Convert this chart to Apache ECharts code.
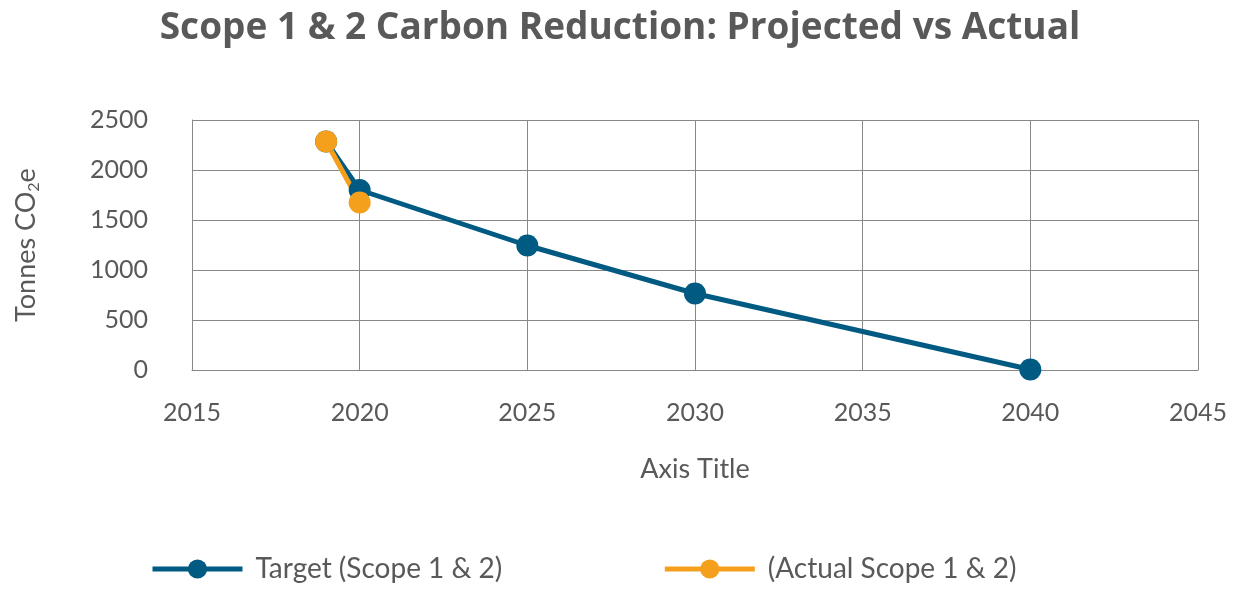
<!DOCTYPE html>
<html>
<head>
<meta charset="utf-8">
<script src="https://cdn.jsdelivr.net/npm/echarts@6/dist/echarts.min.js"></script>
<style>
  html, body { margin: 0; padding: 0; background: #fff; }
  #chart { width: 1240px; height: 590px; }
</style>
</head>
<body>
<div id="chart"></div>
<script>
// values
var targetYears = [2019, 2020, 2025, 2030, 2040];
var targetValues = [2285, 1800, 1245, 765, 5];
var actualYears = [2019, 2020];
var actualValues = [2285, 1675];

var textColor = '#595959';
var blue = '#005A82';
var orange = '#F4A01C';

var chart = echarts.init(document.getElementById('chart'));

function pairs(xs, ys) {
    return xs.map(function (x, i) { return [x, ys[i]]; });
}

// plain numbers, no thousands separator
function plain(v) {
    return String(v);
}

chart.setOption({
    animation: false,
    title: {
        text: 'Scope 1 & 2 Carbon Reduction: Projected vs Actual',
        left: 'center',
        top: 5,
        textStyle: { fontFamily: 'Open Sans', fontWeight: 'bold', fontSize: 37, color: textColor }
    },
    grid: { left: 192, right: 42, top: 120, bottom: 220 },
    xAxis: {
        type: 'value',
        min: 2015,
        max: 2045,
        interval: 5,
        name: 'Axis Title',
        nameLocation: 'middle',
        nameGap: 86,
        nameTextStyle: { fontFamily: 'Lato', fontSize: 27, color: textColor },
        axisLine: { show: true, lineStyle: { color: '#888', width: 1 } },
        axisTick: { show: false },
        axisLabel: { fontFamily: 'Lato', fontSize: 25, color: textColor, margin: 30, formatter: plain },
        splitLine: { show: true, lineStyle: { color: '#888', width: 1 } }
    },
    yAxis: {
        type: 'value',
        min: 0,
        max: 2500,
        interval: 500,
        name: 'Tonnes CO{sub|2}e',
        nameLocation: 'middle',
        nameGap: 150,
        nameRotate: 90,
        nameTextStyle: {
            fontFamily: 'Lato', fontSize: 27, color: textColor,
            rich: { sub: { fontFamily: 'Lato', fontSize: 16, color: textColor, padding: [16, 0, 0, 0] } }
        },
        axisLine: { show: true, lineStyle: { color: '#888', width: 1 } },
        axisTick: { show: false },
        axisLabel: { fontFamily: 'Lato', fontSize: 25, color: textColor, margin: 44, formatter: plain },
        splitLine: { show: true, lineStyle: { color: '#888', width: 1 } }
    },
    legend: {
        bottom: 2,
        left: 145,
        itemGap: 160,
        itemWidth: 90,
        itemHeight: 24,
        lineStyle: { width: 5 },
        textStyle: { fontFamily: 'Lato', fontSize: 28, color: textColor, padding: [0, 0, 0, 8] },
        data: ['Target (Scope 1 & 2)', '(Actual Scope 1 & 2)']
    },
    series: [
        {
            name: 'Target (Scope 1 & 2)',
            type: 'line',
            data: pairs(targetYears, targetValues),
            symbol: 'circle',
            symbolSize: 22,
            lineStyle: { color: blue, width: 5 },
            itemStyle: { color: blue }
        },
        {
            name: '(Actual Scope 1 & 2)',
            type: 'line',
            data: pairs(actualYears, actualValues),
            symbol: 'circle',
            symbolSize: 22,
            lineStyle: { color: orange, width: 5 },
            itemStyle: { color: orange }
        }
    ]
});
</script>
</body>
</html>
